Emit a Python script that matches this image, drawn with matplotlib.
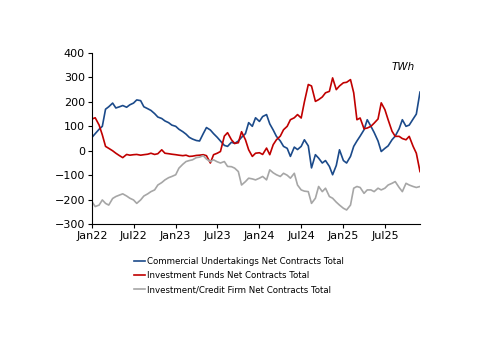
import matplotlib
matplotlib.use("Agg")
import matplotlib.pyplot as plt
import pandas as pd

# semi-monthly observations, Jan 2022 - Dec 2025
dates = pd.date_range("2022-01-01", periods=95, freq="SMS")

commercial = [55, 70, 88, 100, 170, 180, 195, 175, 180, 185, 178, 188, 195, 208, 205, 180,
              172, 165, 152, 138, 132, 122, 115, 105, 100, 88, 78, 68, 55, 48, 42, 40,
              70, 95, 85, 70, 55, 40, 22, 18, 35, 30, 40, 55, 70, 115, 100, 135,
              120, 140, 148, 110, 85, 59, 40, 18, 10, -23, 15, 5, 18, 45, 20, -70,
              -16, -30, -50, -40, -64, -98, -60, 4, -40, -50, -23, 18, 40, 60, 86, 127,
              100, 75, 40, -3, 10, 20, 45, 60, 90, 127, 100, 105, 130, 150, 240]

funds = [130, 135, 105, 65, 18, 10, 0, -10, -20, -28, -15, -18, -16, -15, -18, -16,
         -14, -10, -15, -12, 4, -10, -12, -14, -16, -18, -20, -18, -23, -22, -19, -18,
         -16, -20, -50, -16, -10, -3, 60, 74, 45, 30, 33, 78, 45, 4, -23, -10,
         -8, -15, 11, -16, 25, 45, 60, 86, 100, 127, 135, 148, 134, 200, 271, 265,
         202, 209, 220, 237, 243, 298, 250, 265, 278, 280, 291, 237, 127, 134, 90, 93,
         100, 113, 130, 196, 168, 127, 80, 59, 59, 50, 45, 59, 18, -10, -85]

credit = [-208, -228, -222, -201, -215, -222, -195, -187, -181, -176, -185, -194, -201, -215, -201, -185,
          -176, -167, -160, -140, -130, -119, -110, -105, -98, -71, -55, -44, -40, -37, -28, -26,
          -20, -34, -44, -37, -45, -50, -44, -64, -65, -71, -85, -140, -126, -112, -115, -119,
          -112, -105, -119, -78, -90, -98, -105, -92, -100, -112, -92, -140, -160, -165, -167, -215,
          -194, -146, -167, -153, -187, -194, -210, -222, -235, -242, -222, -153, -146, -150, -174, -160,
          -160, -167, -153, -160, -153, -140, -133, -126, -150, -167, -133, -140, -146, -150, -146]

series_names = ["Commercial Undertakings Net Contracts Total",
                "Investment Funds Net Contracts Total",
                "Investment/Credit Firm Net Contracts Total"]
colors = ["#1B4A8A", "#C00000", "#A6A6A6"]

tick_dates = pd.to_datetime(["2022-01-01", "2022-07-01", "2023-01-01", "2023-07-01",
                             "2024-01-01", "2024-07-01", "2025-01-01", "2025-07-01"])
tick_labels = ["Jan22", "Jul22", "Jan23", "Jul23", "Jan24", "Jul24", "Jan25", "Jul25"]

fig = plt.figure(figsize=(5, 3.53), dpi=100)
ax = fig.add_axes([0.184, 0.365, 0.656, 0.485])

for vals, name, c in zip([commercial, funds, credit], series_names, colors):
    ax.plot(dates, vals, color=c, linewidth=1.2, label=name)

ax.set_ylim(-300, 400)
ax.set_yticks(range(-300, 401, 100))
ax.set_xlim(pd.Timestamp("2022-01-01"), pd.Timestamp("2025-12-01"))
ax.set_xticks(tick_dates)
ax.set_xticklabels(tick_labels)
ax.tick_params(labelsize=8, length=3, width=0.8, color="black", pad=2)
for s in ["top", "right"]:
    ax.spines[s].set_visible(False)
for s in ["left", "bottom"]:
    ax.spines[s].set_linewidth(0.8)

ax.text(0.985, 0.92, "TWh", transform=ax.transAxes, ha="right", va="center",
        fontsize=7.5, style="italic")

fig.legend(loc="upper left", bbox_to_anchor=(0.268, 0.272), frameon=False,
           fontsize=6.2, handlelength=1.3, handletextpad=0.25, labelspacing=0.6,
           borderaxespad=0, borderpad=0)

fig.savefig("out.png", dpi=100)
